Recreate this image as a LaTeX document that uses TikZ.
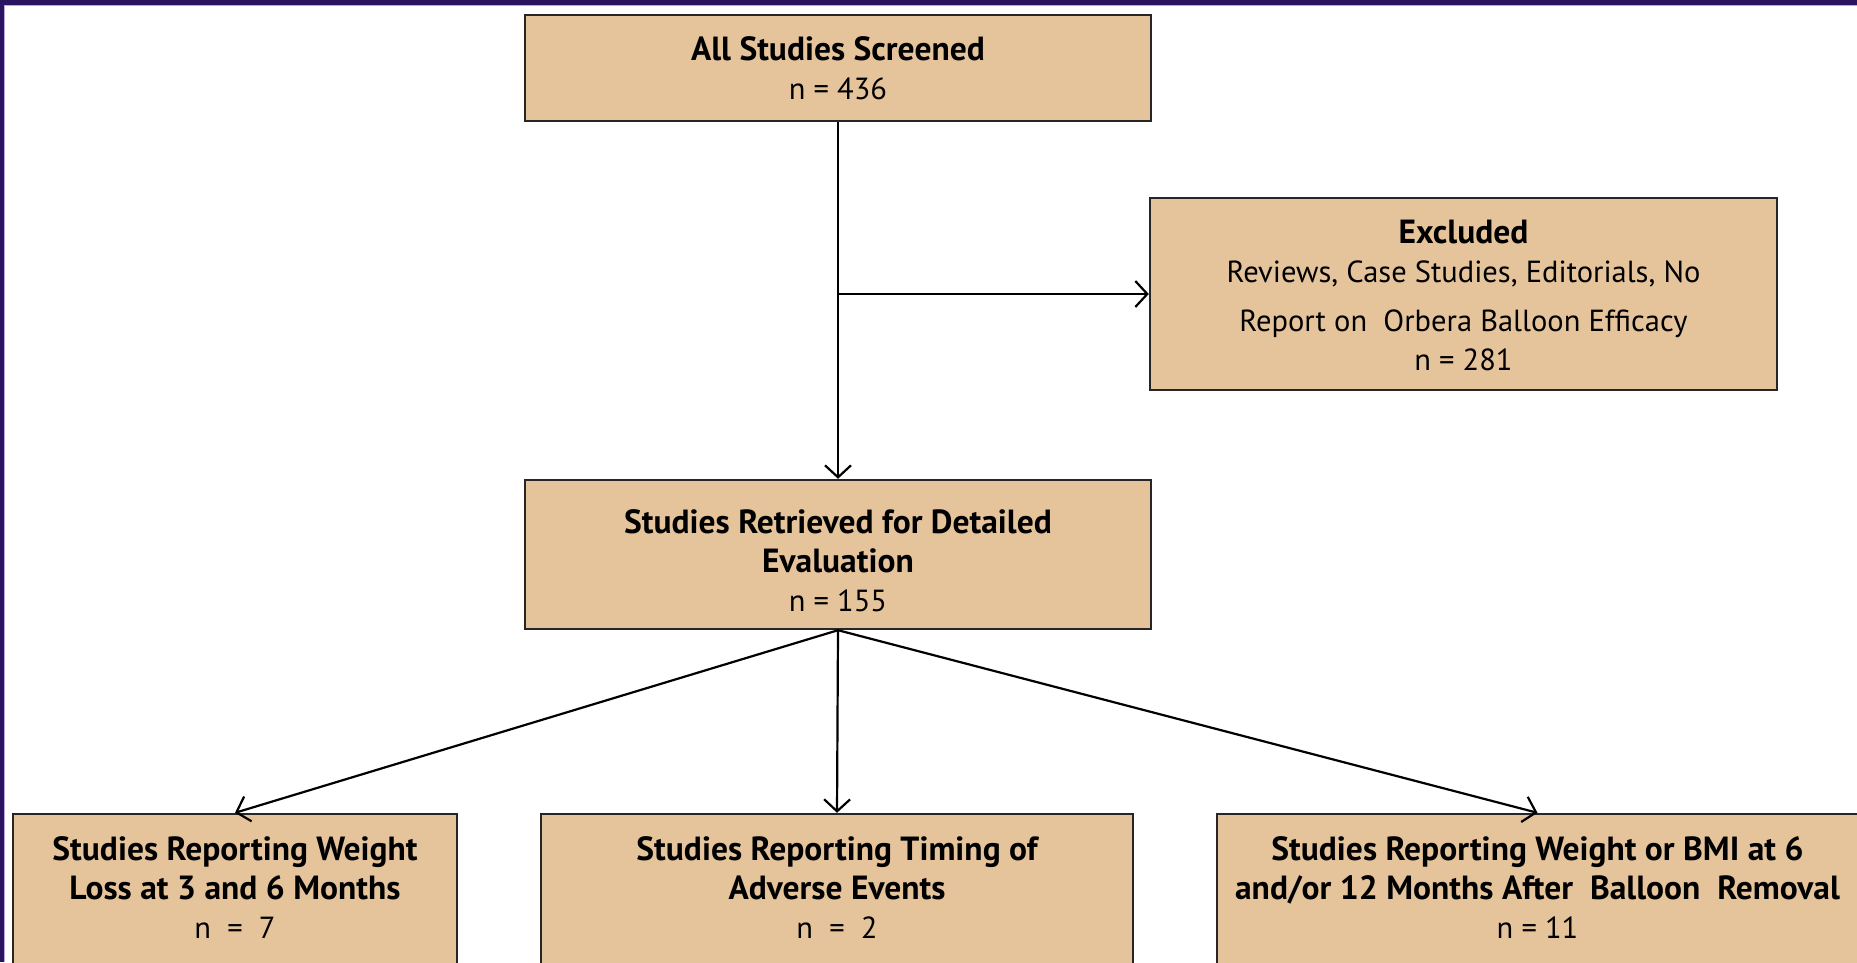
\documentclass[tikz,border=0pt]{standalone}
\usepackage{fontspec}
\setmainfont{PT Sans}
\usetikzlibrary{arrows.meta}
\definecolor{boxfill}{HTML}{E5C49B}
\definecolor{framecol}{HTML}{2A1460}
\definecolor{lav}{HTML}{B9A9DA}
\newcommand\bt[1]{{\fontsize{33.5}{39}\selectfont\bfseries #1}}
\begin{document}
\begin{tikzpicture}[x=1pt,y=-1pt,
  box/.style={draw=black!85, line width=2.4pt, fill=boxfill, rectangle, inner sep=0pt},
  txt/.style={align=center, font=\fontsize{30.5}{39}\selectfont, inner sep=0pt},
  conn/.style={line width=2.2pt, -{Straight Barb[length=12pt,width=26pt,line width=2.2pt]}}]
\useasboundingbox (0,0) rectangle (1857,962);
\clip (0,0) rectangle (1857,962);
\fill[white] (0,0) rectangle (1857,962);
\fill[framecol] (0,0) rectangle (1857,5);
\fill[framecol] (0,0) rectangle (4,962);
\draw[lav, line width=1pt] (4,5.5) -- (1857,5.5);
\draw[lav, line width=1pt] (4.5,5) -- (4.5,962);

\node[box, minimum width=626pt, minimum height=106pt] (screen) at (838,68) {};
\node[txt] (tscreen) at (838,68.7) {\bt{All Studies Screened}\\ n = 436};

\node[box, minimum width=627pt, minimum height=192pt] (excl) at (1463.5,294) {};
\node[txt] (texcl) at (1463.5,295) {\bt{Excluded}\\ Reviews, Case Studies, Editorials, No\\[10pt] Report on\ \ Orbera Balloon Efficacy\\ n = 281};

\node[box, minimum width=626pt, minimum height=149pt] (ret) at (838,554.5) {};
\node[txt] (tret) at (838,560.5) {\bt{Studies Retrieved for Detailed}\\ \bt{Evaluation}\\ n = 155};

\node[box, minimum width=444pt, minimum height=196pt] (b1) at (235,912) {};
\node[txt] (tb1) at (235,888) {\bt{Studies Reporting Weight}\\ \bt{Loss at 3 and 6 Months}\\ n \ = \ 7};

\node[box, minimum width=592pt, minimum height=196pt] (b2) at (837,912) {};
\node[txt] (tb2) at (837,888) {\bt{Studies Reporting Timing of}\\ \bt{Adverse Events}\\ n \ = \ 2};

\node[box, minimum width=641pt, minimum height=196pt] (b3) at (1537.5,912) {};
\node[txt] (tb3) at (1537.5,888) {\bt{Studies Reporting Weight or BMI at 6}\\ \bt{and/or 12 Months After\ \ Balloon\ \ Removal}\\ n = 11};

\draw[conn] (screen) -- (ret);
\coordinate (br) at (838,294);
\draw[conn] (br) -- (br -| excl.west);
\draw[conn] (ret.south) -- (b1.north);
\draw[conn] (ret.south) -- (b2.north);
\draw[conn] (ret.south) -- (b3.north);
\end{tikzpicture}
\end{document}
